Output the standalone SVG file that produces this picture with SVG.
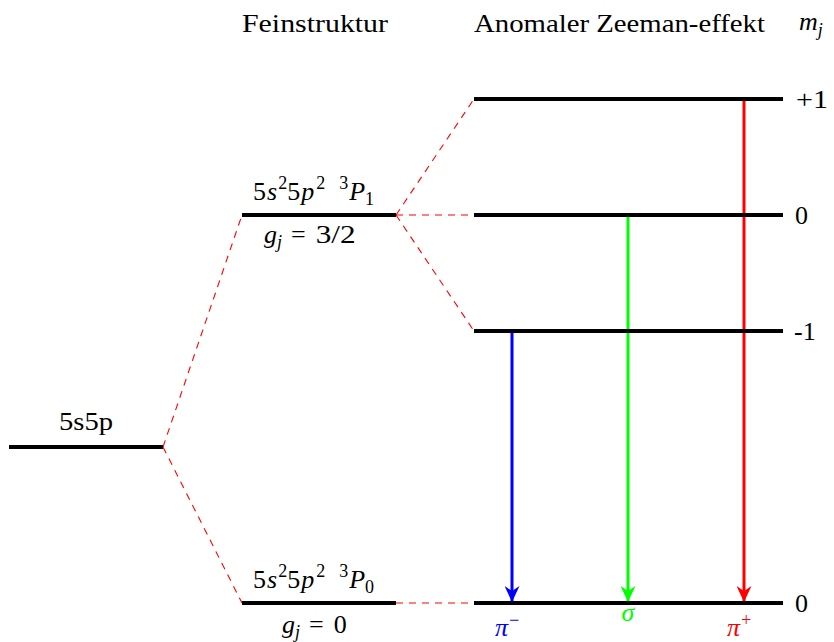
<svg xmlns="http://www.w3.org/2000/svg" width="834" height="642" viewBox="0 0 834 642">
<defs>
<style>
text{font-family:"Liberation Serif","DejaVu Serif",serif;font-size:26px;fill:#000}
.it{font-style:italic}
.lvl{stroke:#000;stroke-width:4;fill:none}
.dash{stroke:#ff0000;stroke-width:1.1;stroke-dasharray:7 6;fill:none}
.sup{font-size:18px}
</style>
<marker id="ab" viewBox="0 0 16 15" refX="15" refY="7.5" markerWidth="16" markerHeight="15" markerUnits="userSpaceOnUse" orient="auto"><path d="M0,0 L16,7.5 L0,15 L5,7.5 Z" fill="#0000ff"/></marker>
<marker id="ag" viewBox="0 0 16 15" refX="15" refY="7.5" markerWidth="16" markerHeight="15" markerUnits="userSpaceOnUse" orient="auto"><path d="M0,0 L16,7.5 L0,15 L5,7.5 Z" fill="#00ff00"/></marker>
<marker id="ar" viewBox="0 0 16 15" refX="15" refY="7.5" markerWidth="16" markerHeight="15" markerUnits="userSpaceOnUse" orient="auto"><path d="M0,0 L16,7.5 L0,15 L5,7.5 Z" fill="#ff0000"/></marker>
</defs>
<rect width="834" height="642" fill="#fff"/>
<g id="headers">
<text x="242" y="32" textLength="146" lengthAdjust="spacingAndGlyphs">Feinstruktur</text>
<text x="474" y="32" textLength="291" lengthAdjust="spacingAndGlyphs">Anomaler Zeeman-effekt</text>
<text x="799" y="30" class="it">m<tspan class="sup" dy="6">j</tspan></text>
</g>
<g id="connectors">
<line class="dash" x1="163" y1="447" x2="242" y2="215"/>
<line class="dash" x1="163" y1="447" x2="242" y2="603"/>
<line class="dash" x1="396" y1="215" x2="474" y2="99"/>
<line class="dash" x1="396" y1="215" x2="474" y2="215"/>
<line class="dash" x1="396" y1="215" x2="474" y2="331"/>
<line class="dash" x1="396" y1="603" x2="474" y2="603"/>
<line x1="512" y1="331" x2="512" y2="601" stroke="#0000ff" stroke-width="3" marker-end="url(#ab)"/>
<line x1="628" y1="215" x2="628" y2="601" stroke="#00ff00" stroke-width="3" marker-end="url(#ag)"/>
<line x1="744" y1="99" x2="744" y2="601" stroke="#ff0000" stroke-width="3" marker-end="url(#ar)"/>
</g>
<g id="level-5s5p">
<line class="lvl" x1="9" y1="447" x2="163" y2="447"/>
<text x="59" y="430" textLength="54" lengthAdjust="spacingAndGlyphs">5s5p</text>
</g>
<g id="level-3P1">
<line class="lvl" x1="242" y1="215" x2="396" y2="215"/>
<text x="253" y="200">5<tspan class="it" dx="1">s</tspan><tspan class="sup" dy="-11" dx="1">2</tspan><tspan dy="11">5</tspan><tspan class="it" dx="1">p</tspan><tspan class="sup" dy="-11" dx="2">2</tspan><tspan class="sup" dx="14">3</tspan><tspan class="it" dy="11" dx="1">P</tspan><tspan class="sup" dy="5">1</tspan></text>
<text x="264" y="243"><tspan class="it">g</tspan><tspan class="sup it" dy="5">j</tspan><tspan dy="-5" dx="9">=</tspan><tspan dx="10" textLength="40" lengthAdjust="spacingAndGlyphs">3/2</tspan></text>
</g>
<g id="level-3P0">
<line class="lvl" x1="242" y1="603" x2="396" y2="603"/>
<text x="253" y="588">5<tspan class="it" dx="1">s</tspan><tspan class="sup" dy="-11" dx="1">2</tspan><tspan dy="11">5</tspan><tspan class="it" dx="1">p</tspan><tspan class="sup" dy="-11" dx="2">2</tspan><tspan class="sup" dx="14">3</tspan><tspan class="it" dy="11" dx="1">P</tspan><tspan class="sup" dy="5">0</tspan></text>
<text x="282" y="633"><tspan class="it">g</tspan><tspan class="sup it" dy="5">j</tspan><tspan dy="-5" dx="9">=</tspan><tspan dx="10">0</tspan></text>
</g>
<g id="level-mj+1">
<line class="lvl" x1="474" y1="99" x2="783" y2="99"/>
<text x="796" y="108" textLength="32" lengthAdjust="spacingAndGlyphs">+1</text>
</g>
<g id="level-mj0">
<line class="lvl" x1="474" y1="215" x2="783" y2="215"/>
<text x="795" y="224">0</text>
</g>
<g id="level-mj-1">
<line class="lvl" x1="474" y1="331" x2="783" y2="331"/>
<text x="794" y="340">-1</text>
</g>
<g id="level-mj0-lower">
<line class="lvl" x1="474" y1="603" x2="783" y2="603"/>
<text x="795" y="612">0</text>
</g>
<g id="labels">
<text x="495" y="636" style="fill:#0000ff" class="it">π<tspan class="sup" dy="-10">−</tspan></text>
<text x="628" y="621" text-anchor="middle" style="fill:#00ff00" class="it">σ</text>
<text x="727" y="636" style="fill:#ff0000" class="it">π<tspan class="sup" dy="-10">+</tspan></text>
</g>
</svg>
